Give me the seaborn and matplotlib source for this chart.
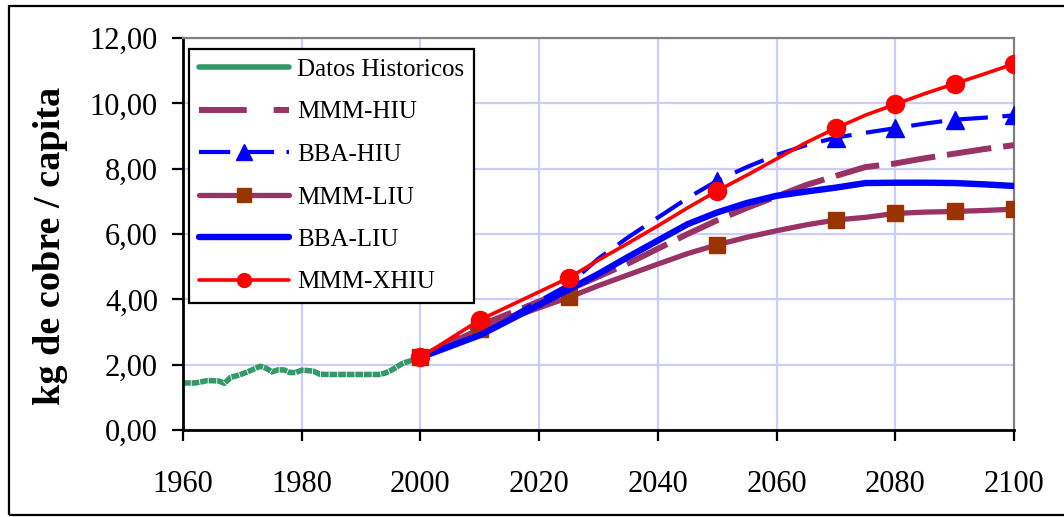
import matplotlib
matplotlib.use("Agg")
import matplotlib.pyplot as plt
from matplotlib.lines import Line2D
from matplotlib.patches import Rectangle
import seaborn as sns
import pandas as pd

# ---------------- data ----------------
hist_years = list(range(1960, 2001))
hist_values = [1.44, 1.44, 1.44, 1.47, 1.51, 1.51, 1.50, 1.43, 1.61, 1.66,
               1.72, 1.79, 1.87, 1.95, 1.89, 1.78, 1.84, 1.84, 1.76, 1.76,
               1.83, 1.82, 1.80, 1.71, 1.70, 1.70, 1.70, 1.70, 1.70, 1.70,
               1.70, 1.70, 1.70, 1.70, 1.74, 1.82, 1.93, 2.04, 2.10, 2.16,
               2.22]

proj_years = [2000, 2010, 2025, 2030, 2035, 2040, 2045, 2050, 2055, 2060,
              2065, 2070, 2075, 2080, 2085, 2090, 2095, 2100]
mmm_hiu = [2.22, 3.20, 4.30, 4.70, 5.10, 5.55, 6.00, 6.42, 6.80, 7.15,
           7.50, 7.78, 8.05, 8.16, 8.32, 8.46, 8.60, 8.72]
bba_hiu = [2.22, 2.95, 4.45, 5.25, 5.90, 6.50, 7.10, 7.63, 8.05, 8.42,
           8.72, 8.95, 9.10, 9.24, 9.38, 9.50, 9.56, 9.63]
mmm_liu = [2.22, 3.10, 4.06, 4.42, 4.75, 5.08, 5.40, 5.67, 5.90, 6.10,
           6.28, 6.43, 6.51, 6.63, 6.67, 6.69, 6.72, 6.76]
bba_liu = [2.22, 2.90, 4.30, 4.78, 5.30, 5.80, 6.30, 6.66, 6.95, 7.17,
           7.30, 7.42, 7.56, 7.57, 7.57, 7.56, 7.52, 7.47]
mmm_xhiu = [2.22, 3.37, 4.66, 5.20, 5.72, 6.25, 6.80, 7.32, 7.80, 8.30,
            8.80, 9.24, 9.64, 9.97, 10.30, 10.60, 10.90, 11.21]
marker_years = [2000, 2010, 2025, 2050, 2070, 2080, 2090, 2100]

x_ticks = [1960, 1980, 2000, 2020, 2040, 2060, 2080, 2100]
y_ticks = [0, 2, 4, 6, 8, 10, 12]
y_tick_labels = ["0,00", "2,00", "4,00", "6,00", "8,00", "10,00", "12,00"]
y_label = "kg de cobre / capita"

# ---------------- style ----------------
sns.set_theme(style="white")
plt.rcParams["font.family"] = ["Liberation Serif", "DejaVu Serif"]

W, H = 1064, 517
fig = plt.figure(figsize=(W / 100, H / 100), dpi=100)
ax = fig.add_axes([183 / W, 1 - 430 / H, (1014 - 183) / W, (430 - 38) / H])

grid_color = "#ccccff"
for xv in x_ticks[:-1]:
    ax.axvline(xv, color=grid_color, lw=1.6, zorder=0)
for yv in y_ticks:
    ax.axhline(yv, color=grid_color, lw=1.6, zorder=0)

mk_idx = [proj_years.index(y) for y in marker_years]

hist_df = pd.DataFrame({"year": hist_years, "value": hist_values})
sns.lineplot(data=hist_df, x="year", y="value", ax=ax, color="#339966",
             lw=4.0, linestyle=(0, (1.4, 0.15)), dash_capstyle="butt", zorder=2)

def proj(vals, **kw):
    df = pd.DataFrame({"year": proj_years, "value": vals})
    sns.lineplot(data=df, x="year", y="value", ax=ax, **kw)

proj(mmm_hiu, color="#993366", lw=4.3, linestyle=(0, (7.5, 2.0)),
     dash_capstyle="butt", zorder=3)
proj(bba_hiu, color="#0000ff", lw=3.0, linestyle=(0, (7.5, 3.5)),
     dash_capstyle="butt", marker="^", markersize=13, markerfacecolor="#0000ff",
     markeredgecolor="#0000ff", markeredgewidth=1, markevery=mk_idx[3:], zorder=4)
proj(mmm_liu, color="#993366", lw=3.8, marker="s", markersize=12,
     markerfacecolor="#993300", markeredgecolor="#993300", markeredgewidth=1,
     markevery=mk_idx, zorder=5)
proj(bba_liu, color="#0000ff", lw=4.6, zorder=6)
proj(mmm_xhiu, color="#ff0000", lw=2.6, marker="o", markersize=13,
     markerfacecolor="#ff0000", markeredgecolor="#ff0000", markeredgewidth=1,
     markevery=mk_idx, zorder=7)

ax.set_xlim(1960, 2100)
ax.set_ylim(0, 12)
ax.set_xticks(x_ticks)
ax.set_xticklabels([str(v) for v in x_ticks])
ax.set_yticks(y_ticks)
ax.set_yticklabels(y_tick_labels)
ax.tick_params(axis="both", which="major", direction="out", length=8,
               width=1.6, color="black", labelsize=22, labelcolor="black")
ax.tick_params(axis="x", pad=21, bottom=True)
ax.tick_params(axis="y", pad=10, left=True)
ax.set_xlabel("")
ax.set_ylabel(y_label, fontsize=27.5, fontweight="bold", color="black")
ax.yaxis.set_label_coords((51 - 183) / (1014 - 183), (430 - 246) / (430 - 38))
ax.yaxis.label.set_va("center")

for s in ["left", "bottom"]:
    ax.spines[s].set_color("black")
    ax.spines[s].set_linewidth(2.0)
for s in ["top", "right"]:
    ax.spines[s].set_color("#808080")
    ax.spines[s].set_linewidth(1.6)
ax.set_facecolor("white")
ax.grid(False)

handles = [
    Line2D([], [], color="#339966", lw=4.0),
    Line2D([], [], color="#993366", lw=4.3, linestyle=(0, (8, 4.5)), dash_capstyle="butt"),
    Line2D([], [], color="#0000ff", lw=3.0, linestyle=(0, (7.5, 3.0)), dash_capstyle="butt",
           marker="^", markersize=11, markerfacecolor="#0000ff", markeredgecolor="#0000ff"),
    Line2D([], [], color="#993366", lw=3.8, marker="s", markersize=10,
           markerfacecolor="#993300", markeredgecolor="#993300"),
    Line2D([], [], color="#0000ff", lw=4.6),
    Line2D([], [], color="#ff0000", lw=2.6, marker="o", markersize=10,
           markerfacecolor="#ff0000", markeredgecolor="#ff0000"),
]
labels = ["Datos Historicos", "MMM-HIU", "BBA-HIU", "MMM-LIU", "BBA-LIU", "MMM-XHIU"]
leg = ax.legend(handles, labels, loc="upper left",
                bbox_to_anchor=(189 / W, 1 - 49 / H), bbox_transform=fig.transFigure,
                borderaxespad=0, fontsize=18, handlelength=3.6, handletextpad=0.35,
                labelspacing=0.8, borderpad=0.38, frameon=True, fancybox=False,
                shadow=False, framealpha=1)
leg.get_frame().set_edgecolor("black")
leg.get_frame().set_linewidth(1.6)
leg.set_zorder(10)
for t in leg.get_texts():
    t.set_color("black")

fig.patches.append(Rectangle((9 / W, 2 / H), 1.2, 1 - 8 / H, transform=fig.transFigure,
                             fill=False, edgecolor="black", lw=1.6, zorder=20))

fig.savefig("out.png", dpi=100, facecolor="white")
